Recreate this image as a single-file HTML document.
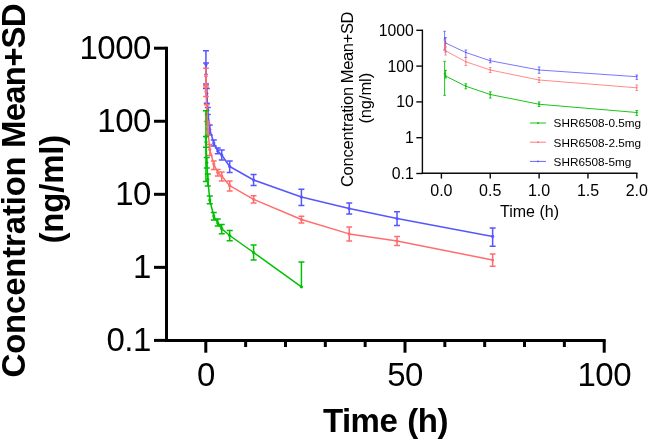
<!DOCTYPE html><html><head><meta charset="utf-8"><title>PK plot</title>
<style>html,body{margin:0;padding:0;background:#fff}svg{display:block;will-change:transform;opacity:.999}text{font-family:"Liberation Sans",sans-serif;fill:#000}</style></head><body>
<svg width="648" height="441" viewBox="0 0 648 441">
<rect width="648" height="441" fill="#fff"/>
<g stroke="#000" stroke-width="3" fill="none" stroke-linecap="butt">
<path d="M166.5 46.7V342.0"/>
<path d="M165.0 340.5H605.7"/>
<path d="M154 48.20H166.5"/>
<path d="M154 121.25H166.5"/>
<path d="M154 194.30H166.5"/>
<path d="M154 267.35H166.5"/>
<path d="M154 340.40H166.5"/>
<path d="M205.80 340.5V352.7"/>
<path d="M245.64 340.5V347"/>
<path d="M285.48 340.5V347"/>
<path d="M325.32 340.5V347"/>
<path d="M365.16 340.5V347"/>
<path d="M405.00 340.5V352.7"/>
<path d="M444.84 340.5V347"/>
<path d="M484.68 340.5V347"/>
<path d="M524.52 340.5V347"/>
<path d="M564.36 340.5V347"/>
<path d="M604.20 340.5V352.7"/>
</g>
<g font-size="33" text-anchor="end" letter-spacing="-0.5">
<text x="150.9" y="59.1">1000</text>
<text x="150.9" y="132.2">100</text>
<text x="150.9" y="205.2">10</text>
<text x="150.9" y="278.2">1</text>
<text x="150.9" y="351.3">0.1</text>
</g>
<g font-size="33" text-anchor="middle" letter-spacing="-0.5">
<text x="205.9" y="386">0</text>
<text x="405.1" y="386">50</text>
<text x="604.3" y="386">100</text>
</g>
<text x="322.9" y="432.2" font-size="33" font-weight="bold" text-anchor="start" letter-spacing="-0.5" word-spacing="1.3">Time (h)</text>
<text transform="translate(24.8,377.5) rotate(-90)" font-size="33" font-weight="bold" text-anchor="start" letter-spacing="-0.2">Concentration</text>
<text transform="translate(24.8,148) rotate(-90)" font-size="33" font-weight="bold" text-anchor="start" letter-spacing="-0.8">Mean+SD</text>
<text transform="translate(63.3,189.2) rotate(-90)" font-size="33" font-weight="bold" text-anchor="middle" letter-spacing="-0.2">(ng/ml)</text>
<g stroke="#5656ff" stroke-width="1.5" fill="none" stroke-linejoin="round">
<path d="M205.93 64.30 L206.00 74.30 L206.80 93.50 L207.79 110.30 L209.78 129.50 L213.77 143.00 L217.75 151.00 L221.74 155.00 L229.70 166.50 L253.61 180.00 L301.42 197.00 L349.22 208.60 L397.03 218.50 L492.65 236.40"/>
<path d="M205.93 64.30V50.80M202.93 50.80H208.93M205.93 64.30V88.40M202.93 88.40H208.93M206.00 74.30V63.00M203.00 63.00H209.00M206.00 74.30V84.00M203.00 84.00H209.00M206.80 93.50V88.40M203.80 88.40H209.80M206.80 93.50V103.20M203.80 103.20H209.80M207.79 110.30V107.50M204.79 107.50H210.79M207.79 110.30V114.50M204.79 114.50H210.79M209.78 129.50V125.00M206.78 125.00H212.78M209.78 129.50V135.00M206.78 135.00H212.78M213.77 143.00V140.00M210.77 140.00H216.77M213.77 143.00V146.00M210.77 146.00H216.77M217.75 151.00V148.00M214.75 148.00H220.75M217.75 151.00V153.80M214.75 153.80H220.75M221.74 155.00V150.00M218.74 150.00H224.74M221.74 155.00V160.00M218.74 160.00H224.74M229.70 166.50V161.00M226.70 161.00H232.70M229.70 166.50V172.50M226.70 172.50H232.70M253.61 180.00V174.50M250.61 174.50H256.61M253.61 180.00V185.50M250.61 185.50H256.61M301.42 197.00V189.30M298.42 189.30H304.42M301.42 197.00V205.50M298.42 205.50H304.42M349.22 208.60V203.00M346.22 203.00H352.22M349.22 208.60V214.00M346.22 214.00H352.22M397.03 218.50V211.70M394.03 211.70H400.03M397.03 218.50V225.50M394.03 225.50H400.03M492.65 236.40V228.00M489.65 228.00H495.65M492.65 236.40V246.20M489.65 246.20H495.65"/>
</g>
<g fill="#5656ff"><circle cx="205.93" cy="64.30" r="1.6"/><circle cx="206.00" cy="74.30" r="1.6"/><circle cx="206.80" cy="93.50" r="1.6"/><circle cx="207.79" cy="110.30" r="1.6"/><circle cx="209.78" cy="129.50" r="1.6"/><circle cx="213.77" cy="143.00" r="1.6"/><circle cx="217.75" cy="151.00" r="1.6"/><circle cx="221.74" cy="155.00" r="1.6"/><circle cx="229.70" cy="166.50" r="1.6"/><circle cx="253.61" cy="180.00" r="1.6"/><circle cx="301.42" cy="197.00" r="1.6"/><circle cx="349.22" cy="208.60" r="1.6"/><circle cx="397.03" cy="218.50" r="1.6"/><circle cx="492.65" cy="236.40" r="1.6"/></g>
<g stroke="#ff6e6e" stroke-width="1.5" fill="none" stroke-linejoin="round">
<path d="M205.93 76.20 L206.00 91.40 L206.80 112.44 L207.79 129.13 L209.78 149.54 L213.77 164.00 L217.75 172.50 L221.74 176.00 L229.70 185.70 L253.61 199.30 L301.42 219.50 L349.22 233.90 L397.03 241.00 L492.65 260.00"/>
<path d="M205.93 76.20V68.30M203.03 68.30H208.83M205.93 76.20V85.20M203.03 85.20H208.83M206.00 91.40V87.00M203.10 87.00H208.90M206.00 91.40V96.50M203.10 96.50H208.90M206.80 112.44V104.80M203.90 104.80H209.70M206.80 112.44V121.50M203.90 121.50H209.70M207.79 129.13V124.00M204.89 124.00H210.69M207.79 129.13V135.00M204.89 135.00H210.69M209.78 149.54V144.54M206.88 144.54H212.68M209.78 149.54V155.48M206.88 155.48H212.68M213.77 164.00V161.00M210.87 161.00H216.67M213.77 164.00V169.50M210.87 169.50H216.67M217.75 172.50V169.50M214.85 169.50H220.65M217.75 172.50V176.00M214.85 176.00H220.65M221.74 176.00V172.00M218.84 172.00H224.64M221.74 176.00V181.00M218.84 181.00H224.64M229.70 185.70V181.00M226.80 181.00H232.60M229.70 185.70V191.00M226.80 191.00H232.60M253.61 199.30V195.80M250.71 195.80H256.51M253.61 199.30V203.00M250.71 203.00H256.51M301.42 219.50V216.30M298.52 216.30H304.32M301.42 219.50V223.00M298.52 223.00H304.32M349.22 233.90V227.00M346.32 227.00H352.12M349.22 233.90V241.00M346.32 241.00H352.12M397.03 241.00V236.40M394.13 236.40H399.93M397.03 241.00V245.60M394.13 245.60H399.93M492.65 260.00V254.00M489.75 254.00H495.55M492.65 260.00V266.30M489.75 266.30H495.55"/>
</g>
<g fill="#ff6e6e"><circle cx="205.93" cy="76.20" r="1.6"/><circle cx="206.00" cy="91.40" r="1.6"/><circle cx="206.80" cy="112.44" r="1.6"/><circle cx="207.79" cy="129.13" r="1.6"/><circle cx="209.78" cy="149.54" r="1.6"/><circle cx="213.77" cy="164.00" r="1.6"/><circle cx="217.75" cy="172.50" r="1.6"/><circle cx="221.74" cy="176.00" r="1.6"/><circle cx="229.70" cy="185.70" r="1.6"/><circle cx="253.61" cy="199.30" r="1.6"/><circle cx="301.42" cy="219.50" r="1.6"/><circle cx="349.22" cy="233.90" r="1.6"/><circle cx="397.03" cy="241.00" r="1.6"/><circle cx="492.65" cy="260.00" r="1.6"/></g>
<g stroke="#00c000" stroke-width="1.5" fill="none" stroke-linejoin="round">
<path d="M205.93 136.93 L206.00 142.00 L206.80 162.79 L207.79 179.39 L209.78 200.00 L213.77 216.00 L217.75 223.00 L221.74 228.80 L229.70 235.50 L253.61 252.50 L301.42 286.80"/>
<path d="M205.93 136.93V110.80M202.93 110.80H208.93M205.93 136.93V181.44M202.93 181.44H208.93M206.00 142.00V136.42M203.00 136.42H209.00M206.00 142.00V147.30M203.00 147.30H209.00M206.80 162.79V157.40M203.80 157.40H209.80M206.80 162.79V167.88M203.80 167.88H209.80M207.79 179.39V173.94M204.79 173.94H210.79M207.79 179.39V185.98M204.79 185.98H210.79M209.78 200.00V196.00M206.78 196.00H212.78M209.78 200.00V203.80M206.78 203.80H212.78M213.77 216.00V212.50M210.77 212.50H216.77M213.77 216.00V220.00M210.77 220.00H216.77M217.75 223.00V219.00M214.75 219.00H220.75M217.75 223.00V226.00M214.75 226.00H220.75M221.74 228.80V224.50M218.74 224.50H224.74M221.74 228.80V233.80M218.74 233.80H224.74M229.70 235.50V230.50M226.70 230.50H232.70M229.70 235.50V240.80M226.70 240.80H232.70M253.61 252.50V245.00M250.61 245.00H256.61M253.61 252.50V260.00M250.61 260.00H256.61M301.42 286.80V262.00M298.42 262.00H304.42"/>
</g>
<g fill="#00c000"><circle cx="205.93" cy="136.93" r="1.6"/><circle cx="206.00" cy="142.00" r="1.6"/><circle cx="206.80" cy="162.79" r="1.6"/><circle cx="207.79" cy="179.39" r="1.6"/><circle cx="209.78" cy="200.00" r="1.6"/><circle cx="213.77" cy="216.00" r="1.6"/><circle cx="217.75" cy="223.00" r="1.6"/><circle cx="221.74" cy="228.80" r="1.6"/><circle cx="229.70" cy="235.50" r="1.6"/><circle cx="253.61" cy="252.50" r="1.6"/><circle cx="301.42" cy="286.80" r="1.6"/></g>
<g stroke="#0a0a0a" stroke-width="1.4" fill="none">
<path d="M422.4 29.6V174.0"/>
<path d="M421.7 173.3H637.5"/>
<path d="M416.3 30.30H422.4"/>
<path d="M416.3 66.10H422.4"/>
<path d="M416.3 101.90H422.4"/>
<path d="M416.3 137.70H422.4"/>
<path d="M416.3 173.50H422.4"/>
<path d="M441.40 173.3V178.6"/>
<path d="M490.25 173.3V178.6"/>
<path d="M539.10 173.3V178.6"/>
<path d="M587.95 173.3V178.6"/>
<path d="M636.80 173.3V178.6"/>
</g>
<g font-size="15.8" text-anchor="end">
<text x="413.8" y="35.7">1000</text>
<text x="413.8" y="71.5">100</text>
<text x="413.8" y="107.3">10</text>
<text x="413.8" y="143.1">1</text>
<text x="413.8" y="178.9">0.1</text>
</g>
<g font-size="16" text-anchor="middle">
<text x="441.4" y="195.8">0.0</text>
<text x="490.2" y="195.8">0.5</text>
<text x="539.1" y="195.8">1.0</text>
<text x="588.0" y="195.8">1.5</text>
<text x="636.8" y="195.8">2.0</text>
</g>
<text x="529.5" y="217.3" font-size="16" text-anchor="middle">Time (h)</text>
<text transform="translate(353.1,187.1) rotate(-90)" font-size="16.5" text-anchor="start" letter-spacing="-0.2">Concentration</text>
<text transform="translate(353.1,83.2) rotate(-90)" font-size="16.5" text-anchor="start" letter-spacing="-0.35">Mean+SD</text>
<text transform="translate(370.9,98.3) rotate(-90)" font-size="16.5" text-anchor="middle" letter-spacing="-0.1">(ng/ml)</text>
<g stroke="#5656ff" stroke-width="0.8" fill="none" stroke-linejoin="round">
<path d="M444.62 38.20 L445.60 43.00 L465.82 52.50 L490.25 60.75 L539.10 70.00 L636.80 76.70"/>
<path d="M444.62 38.20V31.30M443.32 31.30H445.92M444.62 38.20V50.20M443.32 50.20H445.92M445.60 43.00V37.60M444.30 37.60H446.90M445.60 43.00V52.00M444.30 52.00H446.90M465.82 52.50V50.00M464.52 50.00H467.12M465.82 52.50V57.50M464.52 57.50H467.12M490.25 60.75V58.80M488.95 58.80H491.55M490.25 60.75V62.80M488.95 62.80H491.55M539.10 70.00V67.00M537.80 67.00H540.40M539.10 70.00V73.30M537.80 73.30H540.40M636.80 76.70V75.00M635.50 75.00H638.10M636.80 76.70V79.40M635.50 79.40H638.10"/>
</g>
<g fill="#5656ff"><circle cx="444.62" cy="38.20" r="0.8"/><circle cx="445.60" cy="43.00" r="0.8"/><circle cx="465.82" cy="52.50" r="0.8"/><circle cx="490.25" cy="60.75" r="0.8"/><circle cx="539.10" cy="70.00" r="0.8"/><circle cx="636.80" cy="76.70" r="0.8"/></g>
<g stroke="#ff6e6e" stroke-width="0.8" fill="none" stroke-linejoin="round">
<path d="M444.62 44.00 L445.60 50.80 L465.82 61.75 L490.25 70.00 L539.10 80.00 L636.80 87.80"/>
<path d="M444.62 44.00V40.00M443.32 40.00H445.92M444.62 44.00V49.20M443.32 49.20H445.92M445.60 50.80V47.00M444.30 47.00H446.90M445.60 50.80V55.00M444.30 55.00H446.90M465.82 61.75V57.50M464.52 57.50H467.12M465.82 61.75V65.50M464.52 65.50H467.12M490.25 70.00V67.50M488.95 67.50H491.55M490.25 70.00V72.50M488.95 72.50H491.55M539.10 80.00V77.50M537.80 77.50H540.40M539.10 80.00V82.50M537.80 82.50H540.40M636.80 87.80V85.00M635.50 85.00H638.10M636.80 87.80V90.50M635.50 90.50H638.10"/>
</g>
<g fill="#ff6e6e"><circle cx="444.62" cy="44.00" r="0.8"/><circle cx="445.60" cy="50.80" r="0.8"/><circle cx="465.82" cy="61.75" r="0.8"/><circle cx="490.25" cy="70.00" r="0.8"/><circle cx="539.10" cy="80.00" r="0.8"/><circle cx="636.80" cy="87.80" r="0.8"/></g>
<g stroke="#00c000" stroke-width="0.9" fill="none" stroke-linejoin="round">
<path d="M444.62 73.75 L445.60 76.00 L465.82 86.25 L490.25 94.50 L539.10 104.25 L636.80 112.50"/>
<path d="M444.62 73.75V61.30M443.32 61.30H445.92M444.62 73.75V95.30M443.32 95.30H445.92M445.60 76.00V70.40M444.30 70.40H446.90M445.60 76.00V78.00M444.30 78.00H446.90M465.82 86.25V83.80M464.52 83.80H467.12M465.82 86.25V88.80M464.52 88.80H467.12M490.25 94.50V91.80M488.95 91.80H491.55M490.25 94.50V98.00M488.95 98.00H491.55M539.10 104.25V102.00M537.80 102.00H540.40M539.10 104.25V106.50M537.80 106.50H540.40M636.80 112.50V110.50M635.50 110.50H638.10M636.80 112.50V115.30M635.50 115.30H638.10"/>
</g>
<g fill="#00c000"><circle cx="444.62" cy="73.75" r="0.9"/><circle cx="445.60" cy="76.00" r="0.9"/><circle cx="465.82" cy="86.25" r="0.9"/><circle cx="490.25" cy="94.50" r="0.9"/><circle cx="539.10" cy="104.25" r="0.9"/><circle cx="636.80" cy="112.50" r="0.9"/></g>
<path d="M530 123.0H546" stroke="#00c000" stroke-width="0.9"/><circle cx="538" cy="123.0" r="0.9" fill="#00c000"/>
<text x="553.6" y="127.3" font-size="11.75">SHR6508-0.5mg</text>
<path d="M530 142.2H546" stroke="#ff6e6e" stroke-width="0.9"/><circle cx="538" cy="142.2" r="0.9" fill="#ff6e6e"/>
<text x="553.6" y="146.5" font-size="11.75">SHR6508-2.5mg</text>
<path d="M530 161.4H546" stroke="#5656ff" stroke-width="0.9"/><circle cx="538" cy="161.4" r="0.9" fill="#5656ff"/>
<text x="553.6" y="165.7" font-size="11.75">SHR6508-5mg</text>
</svg></body></html>
